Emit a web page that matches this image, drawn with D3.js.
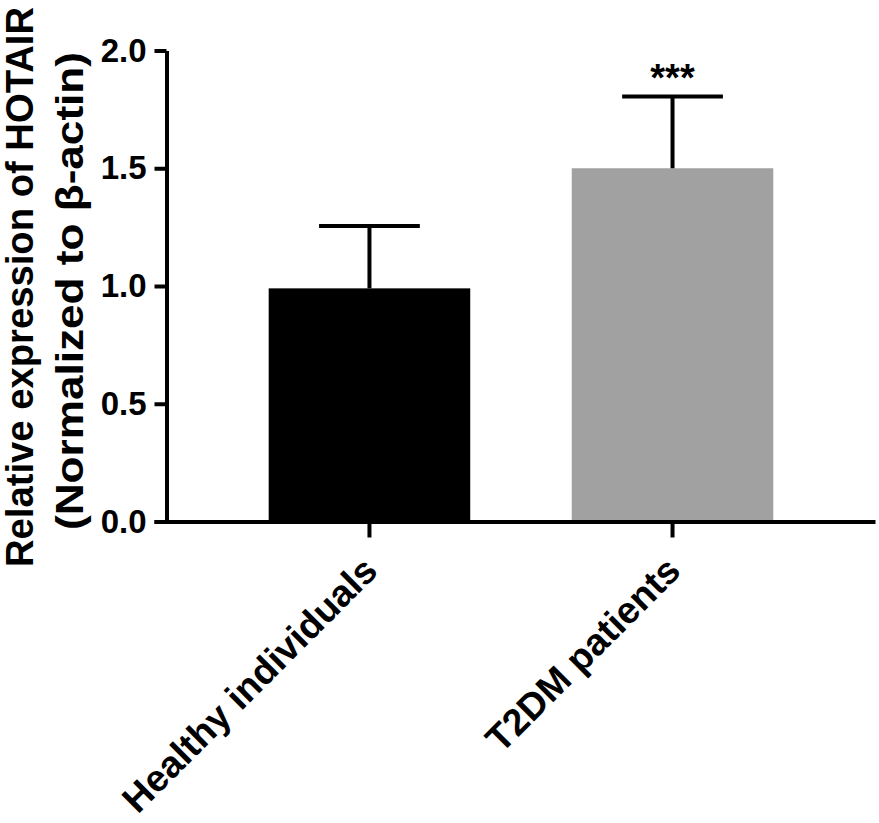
<!DOCTYPE html>
<html>
<head>
<meta charset="utf-8">
<script src="https://cdn.jsdelivr.net/npm/d3@7"></script>
<style>
  html, body { margin: 0; padding: 0; background: #fff; }
  svg { display: block; font-family: "Liberation Sans", Arial, Helvetica, sans-serif; }
</style>
</head>
<body>
<svg id="chart" width="879" height="823"></svg>
<script>
const categories = ["Healthy individuals", "T2DM patients"];
const means = [0.99, 1.50];
const errors = [0.265, 0.305];
const barColors = ["#000000", "#a1a1a1"];
const significance = ["", "***"];
const yTicks = [0, 0.5, 1.0, 1.5, 2.0];
const yTitleLines = ["Relative expression of HOTAIR", "(Normalized to \u03b2-actin)"];

const svg = d3.select("#chart");

const y = d3.scaleLinear().domain([0, 2]).range([521.5, 50.5]);
const x = d3.scaleBand().domain(categories)
  .range([154, 875]).paddingInner(0.335).paddingOuter(0.357).align(0.53);

const bw = x.bandwidth();

// Bars
svg.append("g").selectAll("rect").data(categories).join("rect")
  .attr("x", d => x(d))
  .attr("y", (d, i) => y(means[i]))
  .attr("width", bw)
  .attr("height", (d, i) => y(0) - y(means[i]))
  .attr("fill", (d, i) => barColors[i]);

// Error bars (upper only)
const eg = svg.append("g").attr("stroke", "#000").attr("stroke-width", 4);
categories.forEach((c, i) => {
  const cx = x(c) + bw / 2;
  eg.append("line").attr("x1", cx).attr("x2", cx)
    .attr("y1", y(means[i])).attr("y2", y(means[i] + errors[i]));
  eg.append("line").attr("x1", cx - bw / 4).attr("x2", cx + bw / 4)
    .attr("y1", y(means[i] + errors[i])).attr("y2", y(means[i] + errors[i]));
});

// Significance
svg.append("g").selectAll("text").data(categories).join("text")
  .attr("x", d => x(d) + bw / 2)
  .attr("y", (d, i) => y(means[i] + errors[i]) - 5)
  .attr("text-anchor", "middle")
  .attr("font-size", 38)
  .attr("font-weight", "bold")
  .text((d, i) => significance[i]);

// Y axis
const yAxis = svg.append("g")
  .attr("transform", `translate(${166.5},0)`)
  .call(d3.axisLeft(y).tickValues(yTicks).tickFormat(d3.format(".1f"))
    .tickSize(12).tickSizeOuter(0).tickPadding(8));
yAxis.select(".domain").attr("stroke-width", 4);
yAxis.selectAll(".tick line").attr("stroke-width", 4);
yAxis.selectAll(".tick text")
  .attr("font-size", 33).attr("font-weight", "bold")
  .attr("font-family", "Liberation Sans, Arial, sans-serif")
  .attr("fill", "#000");

// X axis
const xAxis = svg.append("g")
  .attr("transform", `translate(0,${y(0)})`)
  .call(d3.axisBottom(x).tickSize(16).tickSizeOuter(0).tickFormat(""));
xAxis.select(".domain").attr("stroke-width", 4);
xAxis.selectAll(".tick line").attr("stroke-width", 4);

// X category labels rotated
svg.append("g").selectAll("text").data(categories).join("text")
  .attr("transform", d => `translate(${x(d) + bw / 2 + 10},${573}) rotate(-45)`)
  .attr("text-anchor", "end")
  .attr("font-size", 37.5)
  .attr("font-weight", "bold")
  .text(d => d);

// Y title
const yt = svg.append("g")
  .attr("font-size", 38)
  .attr("font-weight", "bold")
  .attr("text-anchor", "middle");
yt.append("text")
  .attr("transform", `translate(33,287) rotate(-90)`)
  .attr("textLength", 560)
  .attr("lengthAdjust", "spacingAndGlyphs")
  .text(yTitleLines[0]);
yt.append("text")
  .attr("transform", `translate(83,291) rotate(-90)`)
  .attr("textLength", 478)
  .attr("lengthAdjust", "spacingAndGlyphs")
  .text(yTitleLines[1]);
</script>
</body>
</html>
